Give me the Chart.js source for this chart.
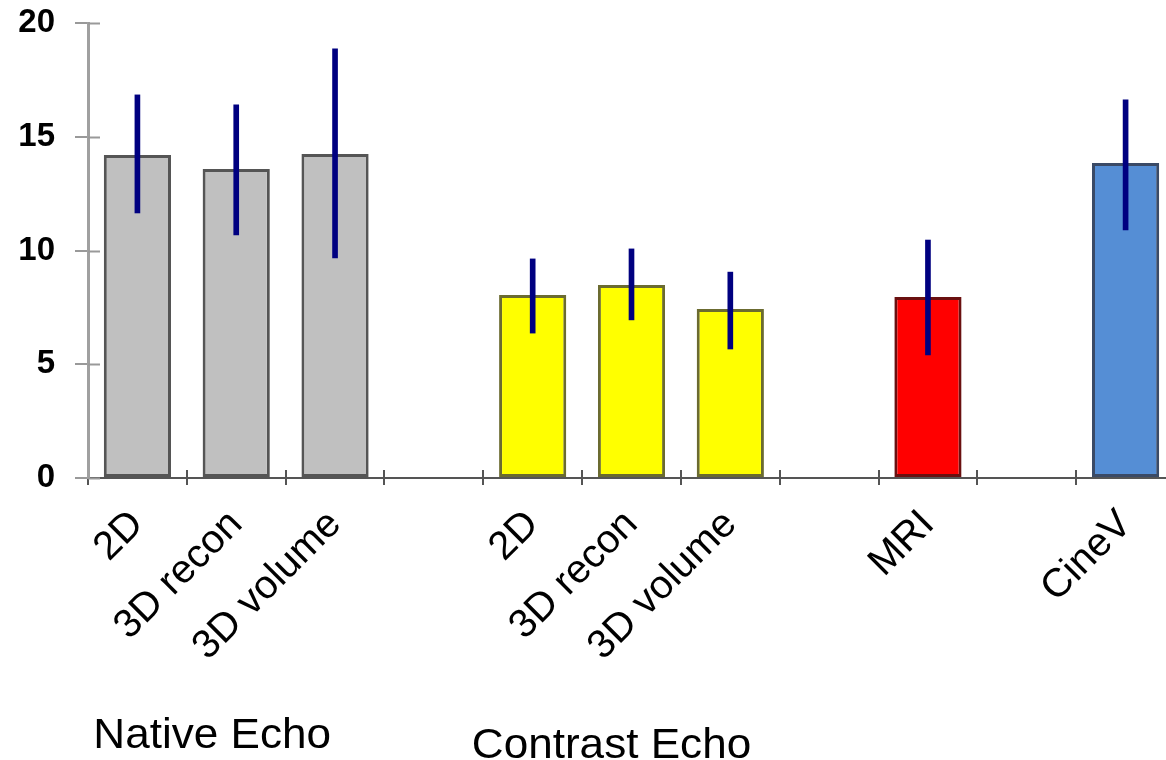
<!DOCTYPE html>
<html>
<head>
<meta charset="utf-8">
<script src="https://cdn.jsdelivr.net/npm/chart.js@4.4.1/dist/chart.umd.min.js"></script>
<style>
  html, body { margin:0; padding:0; background:#fff; overflow:hidden; }
  #wrap { width:1180px; height:760px; }
</style>
</head>
<body>
<div id="wrap"><canvas id="chart" width="1180" height="760"></canvas></div>
<script>
// categories (empty strings are the gaps between groups)
const labels = ['2D', '3D recon', '3D volume', '', '2D', '3D recon', '3D volume', '', 'MRI', '', 'CineV'];
const means  = [14.2, 13.58, 14.24, null, 8.04, 8.48, 7.43, null, 7.96, null, 13.85];
const errLow  = [11.65, 10.68, 9.67, null, 6.37, 6.95, 5.67, null, 5.41, null, 10.9];
const errHigh = [16.84, 16.4, 18.86, null, 9.63, 10.07, 9.05, null, 10.46, null, 16.62];
const fills   = ['#c0c0c0','#c0c0c0','#c0c0c0', null, '#ffff00','#ffff00','#ffff00', null, '#ff0000', null, '#558ed5'];
const borders = ['#555555','#555555','#555555', null, '#6b6b30','#6b6b30','#6b6b30', null, '#6a1010', null, '#3a4a66'];
const yTicks = [0, 5, 10, 15, 20];
const groupNames = ['Native Echo', 'Contrast Echo'];

const FONT = "'Liberation Sans', Arial, sans-serif";

const errRanges = errLow.map((lo, i) => lo == null ? null : [lo, errHigh[i]]);

// short tick marks that also poke inside the plot, and the two group captions
const extras = {
  id: 'extras',
  afterDraw(chart) {
    const ctx = chart.ctx;
    const x = chart.scales.x, y = chart.scales.y;
    const area = chart.chartArea;
    ctx.save();
    ctx.strokeStyle = '#999';
    ctx.lineWidth = 2;
    yTicks.forEach(v => {
      const py = Math.round(y.getPixelForValue(v)) + 0.5;
      ctx.beginPath();
      ctx.moveTo(area.left, py);
      ctx.lineTo(area.left + 12, py);
      ctx.stroke();
    });
    ctx.strokeStyle = '#555';
    for (let i = 1; i < labels.length; i++) {
      const px = Math.round((x.getPixelForValue(i - 1) + x.getPixelForValue(i)) / 2);
      ctx.beginPath();
      ctx.moveTo(px, area.bottom - 8);
      ctx.lineTo(px, area.bottom);
      ctx.stroke();
    }
    ctx.fillStyle = '#000';
    ctx.font = '42px ' + FONT;
    ctx.textAlign = 'center';
    ctx.textBaseline = 'alphabetic';
    const spots = [[x.getPixelForValue(1) - 24, 748], [x.getPixelForValue(5) - 20, 758]];
    groupNames.forEach((t, i) => {
      ctx.save();
      ctx.translate(spots[i][0], spots[i][1]);
      ctx.scale(1.05, 1);
      ctx.fillText(t, 0, 0);
      ctx.restore();
    });
    ctx.restore();
  }
};

new Chart(document.getElementById('chart'), {
  type: 'bar',
  data: {
    labels: labels,
    datasets: [
      {
        label: 'SD',
        data: errRanges,
        backgroundColor: '#000080',
        borderWidth: 0,
        barThickness: 5,
        grouped: false,
        order: 0
      },
      {
        label: 'mean',
        data: means,
        backgroundColor: fills,
        borderColor: borders,
        borderWidth: 3,
        borderSkipped: false,
        barPercentage: 0.68,
        categoryPercentage: 1,
        grouped: false,
        order: 1
      }
    ]
  },
  options: {
    responsive: false,
    animation: false,
    devicePixelRatio: 1,
    layout: { padding: { top: 23, right: 5, left: 0, bottom: 0 } },
    plugins: { legend: { display: false }, tooltip: { enabled: false } },
    scales: {
      x: {
        offset: true,
        grid: { offset: true, drawOnChartArea: false, tickLength: 7, color: '#555', lineWidth: 2 },
        border: { color: '#555', width: 2 },
        ticks: {
          autoSkip: false, maxRotation: 45, minRotation: 45, padding: 16,
          color: '#000', font: { family: FONT, size: 40 }
        },
        afterFit(s) { s.height = 282; }
      },
      y: {
        min: 0, max: 20,
        afterBuildTicks(s) { s.ticks = yTicks.map(v => ({ value: v })); },
        grid: { drawOnChartArea: false, tickLength: 13, color: '#999', lineWidth: 2 },
        border: { color: '#a0a0a0', width: 3 },
        ticks: {
          padding: 20, color: '#000',
          font: { family: FONT, size: 33, weight: 'bold' }
        },
        afterFit(s) { s.width = 88; s.paddingTop = 0; s.paddingBottom = 0; }
      }
    }
  },
  plugins: [extras]
});
</script>
</body>
</html>
